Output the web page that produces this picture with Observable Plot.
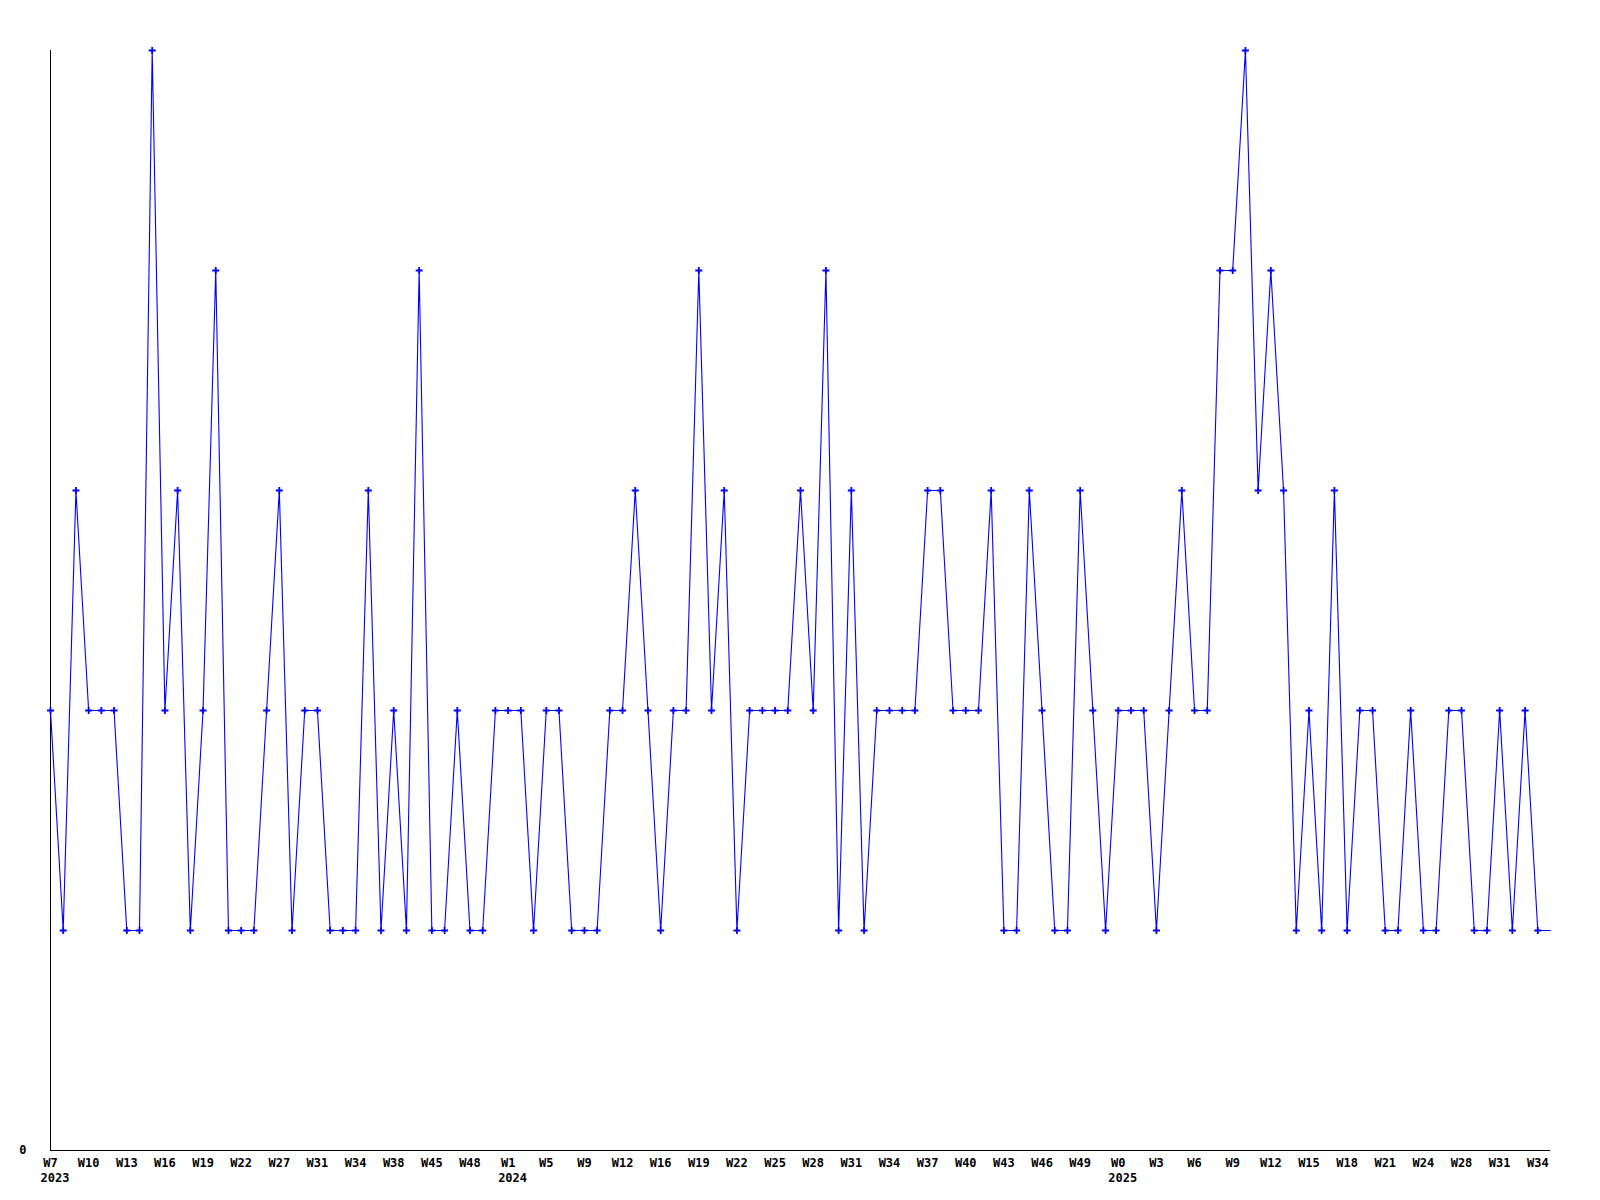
<!DOCTYPE html>
<html>
<head>
<meta charset="utf-8">
<script src="https://cdn.jsdelivr.net/npm/d3@7"></script>
<script src="https://cdn.jsdelivr.net/npm/@observablehq/plot@0.6"></script>
<style>
  html, body { margin: 0; padding: 0; background: #fff; }
  #chart svg { display: block; }
</style>
</head>
<body>
<div id="chart"></div>
<script>
// Weekly counts, one per reporting week (in order); the last value is the current, unmarked week
const values = [
  2,1,3,2,2,2,1,1,5,2,3,1,2,4,1,1,1,2,3,1,
  2,2,1,1,1,3,1,2,1,4,1,1,2,1,1,2,2,2,1,2,
  2,1,1,1,2,2,3,2,1,2,2,4,2,3,1,2,2,2,2,3,
  2,4,1,3,1,2,2,2,2,3,3,2,2,2,3,1,1,3,2,1,
  1,3,2,1,2,2,2,1,2,3,2,2,4,4,5,3,4,3,1,2,
  1,3,1,2,2,1,1,2,1,1,2,2,1,1,2,1,2,1,1
];
// Tick labels shown every third week
const weekTicks = [
  "W7","W10","W13","W16","W19","W22","W27","W31","W34","W38","W45","W48",
  "W1","W5","W9","W12","W16","W19","W22","W25","W28","W31","W34","W37","W40","W43","W46","W49",
  "W0","W3","W6","W9","W12","W15","W18","W21","W24","W28","W31","W34"
];
const yearLabels = ["2023","2024","2025"];
const tickEvery = 3;

const data = values.map((v, i) => ({i, v}));
const marked = data.slice(0, values.length - 1);

const tickIdx = weekTicks.map((_, k) => k * tickEvery);
// year labels go under the first tick of each year (where the week number restarts)
const yearTickIdx = [];
weekTicks.forEach((w, k) => {
  const n = +w.slice(1);
  if (k === 0 || n < +weekTicks[k - 1].slice(1)) yearTickIdx.push(k * tickEvery);
});
const yearRows = yearTickIdx.map((i, k) => ({i, label: yearLabels[k]}));

const font = "'DejaVu Sans Mono', monospace";

const chart = Plot.plot({
  width: 1600,
  height: 1200,
  marginLeft: 50,
  marginRight: 50,
  marginTop: 50,
  marginBottom: 50,
  style: {fontFamily: font, fontSize: "12px", fontWeight: "bold", color: "#000", background: "#fff"},
  x: {type: "linear", domain: [0, values.length - 1]},
  y: {domain: [0, 5]},
  marks: [
    Plot.ruleX([0], {x: 0, y1: 0, y2: 5, stroke: "#000", strokeWidth: 1, shapeRendering: "crispEdges"}),
    Plot.ruleY([0], {x1: 0, x2: values.length - 1, stroke: "#000", strokeWidth: 1, shapeRendering: "crispEdges"}),
    Plot.axisY({ticks: [0], tickSize: 0, tickPadding: 24, tickFormat: d => String(d), label: null}),
    Plot.axisX({ticks: tickIdx, tickSize: 0, tickPadding: 8, tickFormat: d => weekTicks[Math.round(d / tickEvery)], label: null}),
    Plot.text(yearRows, {x: "i", text: "label", frameAnchor: "bottom", lineAnchor: "top", dy: 23, dx: -10, textAnchor: "start", fill: "#000"}),
    Plot.line(data, {x: "i", y: "v", stroke: "#0000ff", strokeWidth: 1.1}),
    Plot.dot(marked, {x: "i", y: "v", symbol: "plus", r: 2.4, stroke: "#0000ff", strokeWidth: 1.8})
  ]
});
document.getElementById("chart").appendChild(chart);
</script>
</body>
</html>
